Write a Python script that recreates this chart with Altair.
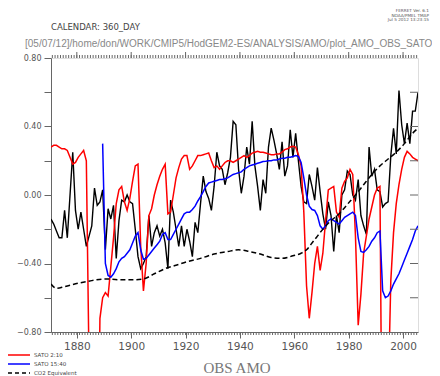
import altair as alt
import pandas as pd

# ---------------- data ----------------
obs_years = list(range(1870, 2006))
obs_amo = [
    -0.14, -0.17, -0.21, -0.25, -0.25, -0.09, -0.25, 0.00, 0.25, -0.09,
    -0.20, -0.10, -0.20, -0.30, -0.24, -0.18, 0.04, -0.06, -0.04, 0.03,
    -0.32, -0.08, -0.14, -0.06, -0.37, -0.15, -0.03, -0.04, 0.00, -0.04,
    -0.05, -0.20, -0.36, -0.43, -0.40, -0.36, -0.12, -0.30, -0.22, -0.18,
    -0.24, -0.20, -0.28, -0.43, -0.03, -0.10, -0.20, -0.30, -0.18, -0.30,
    -0.20, -0.27, -0.36, -0.16, -0.22, -0.05, 0.11, 0.02, -0.02, -0.09,
    0.05, 0.25, 0.17, 0.15, 0.06, 0.13, 0.22, 0.43, 0.41, 0.15,
    0.01, 0.11, 0.28, 0.18, 0.43, 0.17, 0.05, -0.09, 0.09, 0.01,
    0.28, 0.39, 0.32, 0.24, 0.15, 0.31, 0.11, 0.17, 0.38, 0.22,
    0.36, 0.20, 0.05, -0.04, -0.05, 0.12, 0.05, -0.03, 0.16, 0.02,
    -0.11, -0.20, -0.04, -0.12, -0.33, -0.12, -0.22, 0.00, 0.03, 0.14,
    0.12, 0.00, -0.03, 0.09, -0.12, -0.18, -0.23, 0.28, 0.11, 0.15,
    0.03, 0.02, -0.07, -0.05, -0.04, 0.23, 0.39, 0.24, 0.61, 0.41,
    0.30, 0.42, 0.30, 0.49, 0.49, 0.60,
]
sato_2_10 = [
    0.28, 0.29, 0.29, 0.28, 0.27, 0.27, 0.26, 0.22, 0.18, 0.19,
    0.22, 0.24, 0.26, 0.20, -1.00, -2.00, -2.00, -2.00, -0.72, -0.60,
    -0.57, -0.59, -0.42, -0.25, -0.05, 0.03, 0.05, -0.04, -0.09, -0.02,
    0.08, 0.17, 0.18, -0.30, -0.56, -0.40, -0.12, -0.08, 0.00, 0.06,
    0.11, 0.15, 0.18, -0.11, -0.10, 0.00, 0.10, 0.16, 0.21, 0.23,
    0.23, 0.15, 0.17, 0.20, 0.23, 0.23, 0.235, 0.24, 0.245, 0.20,
    0.16, 0.17, 0.15, 0.17, 0.19, 0.20, 0.20, 0.19, 0.20, 0.21,
    0.22, 0.23, 0.22, 0.23, 0.245, 0.25, 0.255, 0.25, 0.25, 0.245,
    0.24, 0.235, 0.235, 0.24, 0.24, 0.25, 0.265, 0.27, 0.28, 0.285,
    0.28, 0.235, 0.17, -0.10, -0.53, -0.72, -0.57, -0.40, -0.30, -0.44,
    -0.34, -0.15, 0.03, 0.04, 0.05, -0.10, -0.13, 0.04, 0.08, 0.10,
    0.15, 0.12, -0.24, -0.76, -0.58, -0.34, -0.24, -0.14, -0.07, 0.00,
    0.04, 0.05, -2.00, -2.00, -1.20, -0.50, -0.22, -0.05, 0.06, 0.15,
    0.22, 0.255, 0.24, 0.22, 0.21, 0.20,
]
sato_15_40_years = list(range(1889, 2006))
sato_15_40 = [
    0.30,
    -0.40, -0.47, -0.48, -0.46, -0.43, -0.39, -0.37, -0.36, -0.34, -0.32,
    -0.28, -0.24, -0.22, -0.32, -0.375, -0.37, -0.35, -0.33, -0.31, -0.29,
    -0.27, -0.23, -0.22, -0.26, -0.26, -0.23, -0.20, -0.17, -0.14, -0.11,
    -0.10, -0.10, -0.085, -0.065, -0.035, -0.01, 0.02, 0.05, 0.07, 0.075,
    0.08, 0.085, 0.09, 0.09, 0.095, 0.10, 0.11, 0.12, 0.125, 0.13,
    0.135, 0.15, 0.16, 0.17, 0.175, 0.18, 0.185, 0.19, 0.195, 0.197,
    0.20, 0.20, 0.205, 0.205, 0.21, 0.215, 0.215, 0.22, 0.22, 0.225,
    0.23, 0.225, 0.19, 0.10, 0.00, -0.065, -0.085, -0.09, -0.12, -0.18,
    -0.20, -0.18, -0.15, -0.14, -0.15, -0.16, -0.17, -0.15, -0.13, -0.12,
    -0.11, -0.10, -0.12, -0.25, -0.33, -0.335, -0.32, -0.30, -0.27, -0.25,
    -0.22, -0.21, -0.56, -0.60, -0.59, -0.56, -0.52, -0.49, -0.46, -0.42,
    -0.38, -0.34, -0.30, -0.26, -0.21, -0.18,
]
co2_years = [1870, 1872, 1875, 1880, 1885, 1890, 1895, 1900, 1904, 1908,
             1912, 1916, 1920, 1925, 1930, 1935, 1939, 1943, 1947, 1951,
             1955, 1959, 1962, 1964, 1966, 1968, 1970, 1973, 1976, 1979,
             1982, 1985, 1988, 1991, 1994, 1997, 2000, 2003, 2005]
co2_equiv = [-0.52, -0.545, -0.535, -0.515, -0.50, -0.49, -0.495, -0.495, -0.49, -0.46,
             -0.43, -0.41, -0.39, -0.37, -0.345, -0.33, -0.32, -0.33, -0.345, -0.365,
             -0.37, -0.355, -0.34, -0.32, -0.28, -0.24, -0.20, -0.15, -0.11, -0.055,
             0.00, 0.06, 0.12, 0.17, 0.21, 0.25, 0.30, 0.36, 0.39]

x_tick_labels = [1880, 1900, 1920, 1940, 1960, 1980, 2000]
y_ticks = [-0.8, -0.6, -0.4, -0.2, 0.0, 0.2, 0.4, 0.6, 0.8]
minor_years = list(range(1871, 2006))
legend_labels = ["SATO 2:10", "SATO 15:40", "CO2 Equivalent"]
stamp_lines = ["FERRET Ver. 6.1", "NOAA/PMEL TMAP", "Jul  5 2012 13:23:15"]
calendar_text = "CALENDAR: 360_DAY"
path_text = "[05/07/12]/home/don/WORK/CMIP5/HodGEM2-ES/ANALYSIS/AMO/plot_AMO_OBS_SATO"
plot_title = "OBS AMO"

W, H = 367, 274
AX = "#666666"
TXT = "#555555"

xscale = alt.Scale(domain=[1870.5, 2005.5], nice=False, zero=False)
yscale = alt.Scale(domain=[-0.8, 0.8], nice=False, zero=False)

obs_df = pd.DataFrame({"year": obs_years, "v": obs_amo})
red_df = pd.DataFrame({"year": obs_years, "v": sato_2_10})
blue_df = pd.DataFrame({"year": sato_15_40_years, "v": sato_15_40})
co2_df = pd.DataFrame({"year": co2_years, "v": co2_equiv})

xaxis = alt.Axis(values=x_tick_labels, format="d", tickSize=6, labelFontSize=10.5,
                 labelPadding=3, labelColor=TXT, tickColor=AX, domainColor=AX,
                 grid=False, title=None, labelFont="DejaVu Sans", labelFlush=False)
yaxis = alt.Axis(values=y_ticks, tickSize=7, labelFontSize=8, labelPadding=3,
                 labelColor=TXT, tickColor=AX, domainColor=AX, grid=False, title=None,
                 labelFont="DejaVu Sans", labelFlush=False,
                 labelExpr="abs(round(datum.value*10)) % 4 == 0 ? format(datum.value, '.2f') : ''")


def series(df, color, width=1.5, dash=None, interp="linear"):
    kw = dict(color=color, strokeWidth=width, clip=True, interpolate=interp)
    if dash:
        kw["strokeDash"] = dash
    return alt.Chart(df).mark_line(**kw).transform_calculate(
        xp="datum.year + 0.5"
    ).encode(
        x=alt.X("xp:Q", scale=xscale, axis=xaxis),
        y=alt.Y("v:Q", scale=yscale, axis=yaxis),
    )


black = series(obs_df, "#000000", 1.4)
red = series(red_df, "#ff0000", 1.5)
blue = series(blue_df, "#0000ff", 1.5)
co2 = series(co2_df, "#000000", 1.5, dash=[5, 3], interp="monotone")

# ---- extra tick marks (minor year ticks, top and right axis ticks) ----
minor_df = pd.DataFrame({"year": minor_years})
major_df = pd.DataFrame({"year": x_tick_labels})
ytick_df = pd.DataFrame({"v": y_ticks[1:-1]})

bottom_minor = alt.Chart(minor_df).mark_rule(color=AX, strokeWidth=1).encode(
    x=alt.X("year:Q", scale=xscale, axis=xaxis), y=alt.value(H), y2=alt.value(H + 3))
top_minor = alt.Chart(minor_df).mark_rule(color=AX, strokeWidth=1).encode(
    x=alt.X("year:Q", scale=xscale, axis=xaxis), y=alt.value(0), y2=alt.value(-3))
top_major = alt.Chart(major_df).mark_rule(color=AX, strokeWidth=1).encode(
    x=alt.X("year:Q", scale=xscale, axis=xaxis), y=alt.value(0), y2=alt.value(-6))
right_ticks = alt.Chart(ytick_df).mark_rule(color=AX, strokeWidth=1).encode(
    y=alt.Y("v:Q", scale=yscale, axis=yaxis), x=alt.value(W), x2=alt.value(W - 8))

# ---- annotations ----
one = pd.DataFrame({"a": [0]})


def label(text, x, y, size, color=TXT, font="DejaVu Sans", align="left", **kw):
    return alt.Chart(one).mark_text(text=text, fontSize=size, color=color, font=font,
                                    align=align, baseline="middle", **kw).encode(
        x=alt.value(x), y=alt.value(y))


texts = [
    label(calendar_text, 0, -31, 8.5, color="#444444"),
    label(path_text, -26, -14, 10, color="#888888", font="Liberation Sans"),
    label(stamp_lines[0], 378, -47, 4.2, align="right"),
    label(stamp_lines[1], 378, -42.5, 4.2, align="right"),
    label(stamp_lines[2], 378, -38, 4.2, align="right"),
    label(plot_title, 186, 310, 15, color="#777777", font="Liberation Serif",
          align="center"),
]

leg_colors = ["#ff0000", "#0000ff", "#000000"]
leg_y = [297, 306, 315]
legend_layers = []
for i, (lab, col, ly) in enumerate(zip(legend_labels, leg_colors, leg_y)):
    rkw = dict(color=col, strokeWidth=1.5)
    if i == 2:
        rkw["strokeDash"] = [4, 3]
    legend_layers.append(alt.Chart(one).mark_rule(**rkw).encode(
        x=alt.value(-43), x2=alt.value(-21), y=alt.value(ly)))
    legend_layers.append(label(lab, -17, ly, 5.5, color="#444444"))

chart = alt.layer(
    black, red, blue, co2, bottom_minor, top_minor, top_major, right_ticks,
    *texts, *legend_layers
).properties(
    width=W, height=H,
    padding={"left": 43, "top": 50, "right": 14, "bottom": 44},
    autosize=alt.AutoSizeParams(type="none"),
).configure_view(stroke=AX, strokeWidth=1).configure(background="white")

chart.save("out.html", embed_options={"renderer": "svg", "actions": False})
